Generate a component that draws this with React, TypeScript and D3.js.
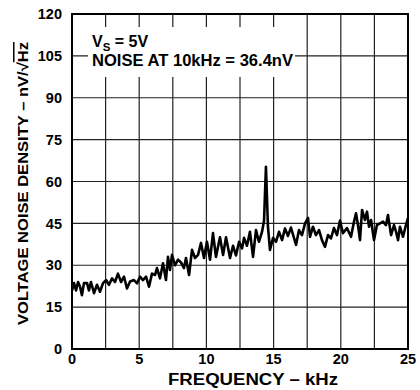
import React from "react";
import * as d3 from "d3";

const frequencyKHz = [
  0.0, 0.15, 0.3, 0.45, 0.6, 0.74, 0.89, 1.12, 1.26, 1.41, 1.64, 1.86, 2.08, 2.31, 2.53, 2.75, 2.98, 3.2, 3.42, 3.65,
  3.87, 4.09, 4.32, 4.61, 4.84, 5.06, 5.28, 5.51, 5.73, 5.95, 6.18, 6.32, 6.55, 6.77, 6.99, 7.14, 7.29, 7.44, 7.66,
  7.89, 8.11, 8.33, 8.48, 8.71, 8.93, 9.15, 9.38, 9.6, 9.82, 10.04, 10.27, 10.49, 10.71, 11.01, 11.24, 11.46, 11.76,
  11.98, 12.2, 12.43, 12.65, 12.8, 13.02, 13.24, 13.47, 13.69, 13.91, 14.14, 14.29, 14.43, 14.58, 14.73, 14.96, 15.18,
  15.4, 15.63, 15.85, 16.07, 16.29, 16.67, 16.89, 17.11, 17.34, 17.56, 17.71, 17.93, 18.15, 18.38, 18.6, 18.82, 19.05,
  19.27, 19.49, 19.72, 19.94, 20.16, 20.46, 20.76, 20.98, 21.13, 21.28, 21.43, 21.58, 21.8, 21.95, 22.1, 22.25, 22.47,
  22.69, 22.92, 23.14, 23.36, 23.51, 23.74, 23.96, 24.11, 24.26, 24.4, 24.63, 24.85, 25.0,
];

const noiseDensity = [
  21.0, 23.6, 21.0, 24.0, 22.3, 19.3, 23.6, 23.6, 21.0, 24.0, 20.0, 23.0, 20.5, 23.6, 24.7, 23.0, 25.3, 24.0, 27.0, 24.0,
  25.9, 21.7, 24.2, 24.7, 23.5, 25.9, 24.7, 25.9, 22.3, 27.0, 26.5, 29.0, 25.3, 30.7, 24.7, 33.0, 28.3, 33.7, 30.0,
  32.0, 31.0, 29.0, 32.6, 26.5, 35.5, 32.6, 33.7, 38.0, 32.6, 38.4, 32.0, 41.5, 33.0, 40.0, 33.7, 40.0, 32.6,
  37.0, 33.5, 38.4, 36.0, 39.8, 37.0, 42.0, 33.0, 42.6, 38.4, 42.0, 46.0, 65.3, 43.8, 35.5, 39.8, 38.4,
  42.0, 39.0, 43.2, 40.5, 43.5, 37.3, 42.6, 40.8, 45.0, 47.0, 40.2, 43.8, 40.8, 42.6, 39.0, 36.6, 40.8,
  39.6, 43.3, 40.8, 46.0, 41.5, 43.3, 40.2, 45.6, 48.6, 44.4, 39.0, 49.8, 46.2, 49.2, 43.8, 46.2, 39.0,
  44.4, 45.0, 45.6, 44.4, 48.0, 40.8, 44.4, 42.0, 39.0, 43.8, 40.2, 44.4, 47.0,
];

const yTicks = [0, 15, 30, 45, 60, 75, 90, 105, 120];
const xTickLabels = [0, 5, 10, 15, 20, 25];
const xGridValues = [2.5, 5, 7.5, 10, 12.5, 15, 17.5, 20, 22.5];

const FONT = "'Liberation Sans', Arial, Helvetica, sans-serif";

export default function App() {
  const left = 72, right = 408, top = 14, bottom = 349;
  const x = d3.scaleLinear().domain([0, 25]).range([left, right]);
  const y = d3.scaleLinear().domain([0, 120]).range([bottom, top]);
  const pts = frequencyKHz.map((f, i) => [f, noiseDensity[i]] as [number, number]);
  const line = d3.line<[number, number]>().x((d) => x(d[0])).y((d) => y(d[1]));

  return (
    <svg width={420} height={390} style={{ position: "absolute", left: 0, top: 0, background: "#fff" }}>
      <rect x={0} y={0} width={420} height={390} fill="#fff" />
      {xGridValues.map((v) => (
        <line key={"gx" + v} x1={x(v)} x2={x(v)} y1={top} y2={bottom} stroke="#222" strokeWidth={1.2} />
      ))}
      {yTicks.slice(1, -1).map((v) => (
        <line key={"gy" + v} x1={left} x2={right} y1={y(v)} y2={y(v)} stroke="#222" strokeWidth={1.2} />
      ))}
      <rect x={88} y={27} width={207} height={50} fill="#fff" />
      <text x={92} y={47} fontFamily={FONT} fontWeight="bold" fontSize={16} fill="#000">
        V<tspan fontSize={11.5} dy={3.5}>S</tspan>
        <tspan dy={-3.5}> = 5V</tspan>
      </text>
      <text x={92} y={66} fontFamily={FONT} fontWeight="bold" fontSize={16} fill="#000" textLength={201} lengthAdjust="spacingAndGlyphs">
        NOISE AT 10kHz = 36.4nV
      </text>
      <path d={line(pts) ?? ""} fill="none" stroke="#000" strokeWidth={2.6} strokeLinejoin="round" />
      <rect x={left} y={top} width={right - left} height={bottom - top} fill="none" stroke="#000" strokeWidth={2} />
      {yTicks.map((v) => (
        <text key={"yt" + v} x={62} y={y(v)} dy="0.36em" textAnchor="end" fontFamily={FONT} fontWeight="bold" fontSize={14.5} fill="#000">
          {v}
        </text>
      ))}
      {xTickLabels.map((v) => (
        <text key={"xt" + v} x={x(v)} y={364} textAnchor="middle" fontFamily={FONT} fontWeight="bold" fontSize={14.5} fill="#000">
          {v}
        </text>
      ))}
      <text x={168} y={385} fontFamily={FONT} fontWeight="bold" fontSize={16} fill="#000" textLength={170} lengthAdjust="spacingAndGlyphs">
        FREQUENCY – kHz
      </text>
      <text transform="translate(28,325) rotate(-90)" fontFamily={FONT} fontWeight="bold" fontSize={15} fill="#000" textLength={283} lengthAdjust="spacingAndGlyphs">
        VOLTAGE NOISE DENSITY – nV/√<tspan textDecoration="overline">Hz</tspan>
      </text>
    </svg>
  );
}
